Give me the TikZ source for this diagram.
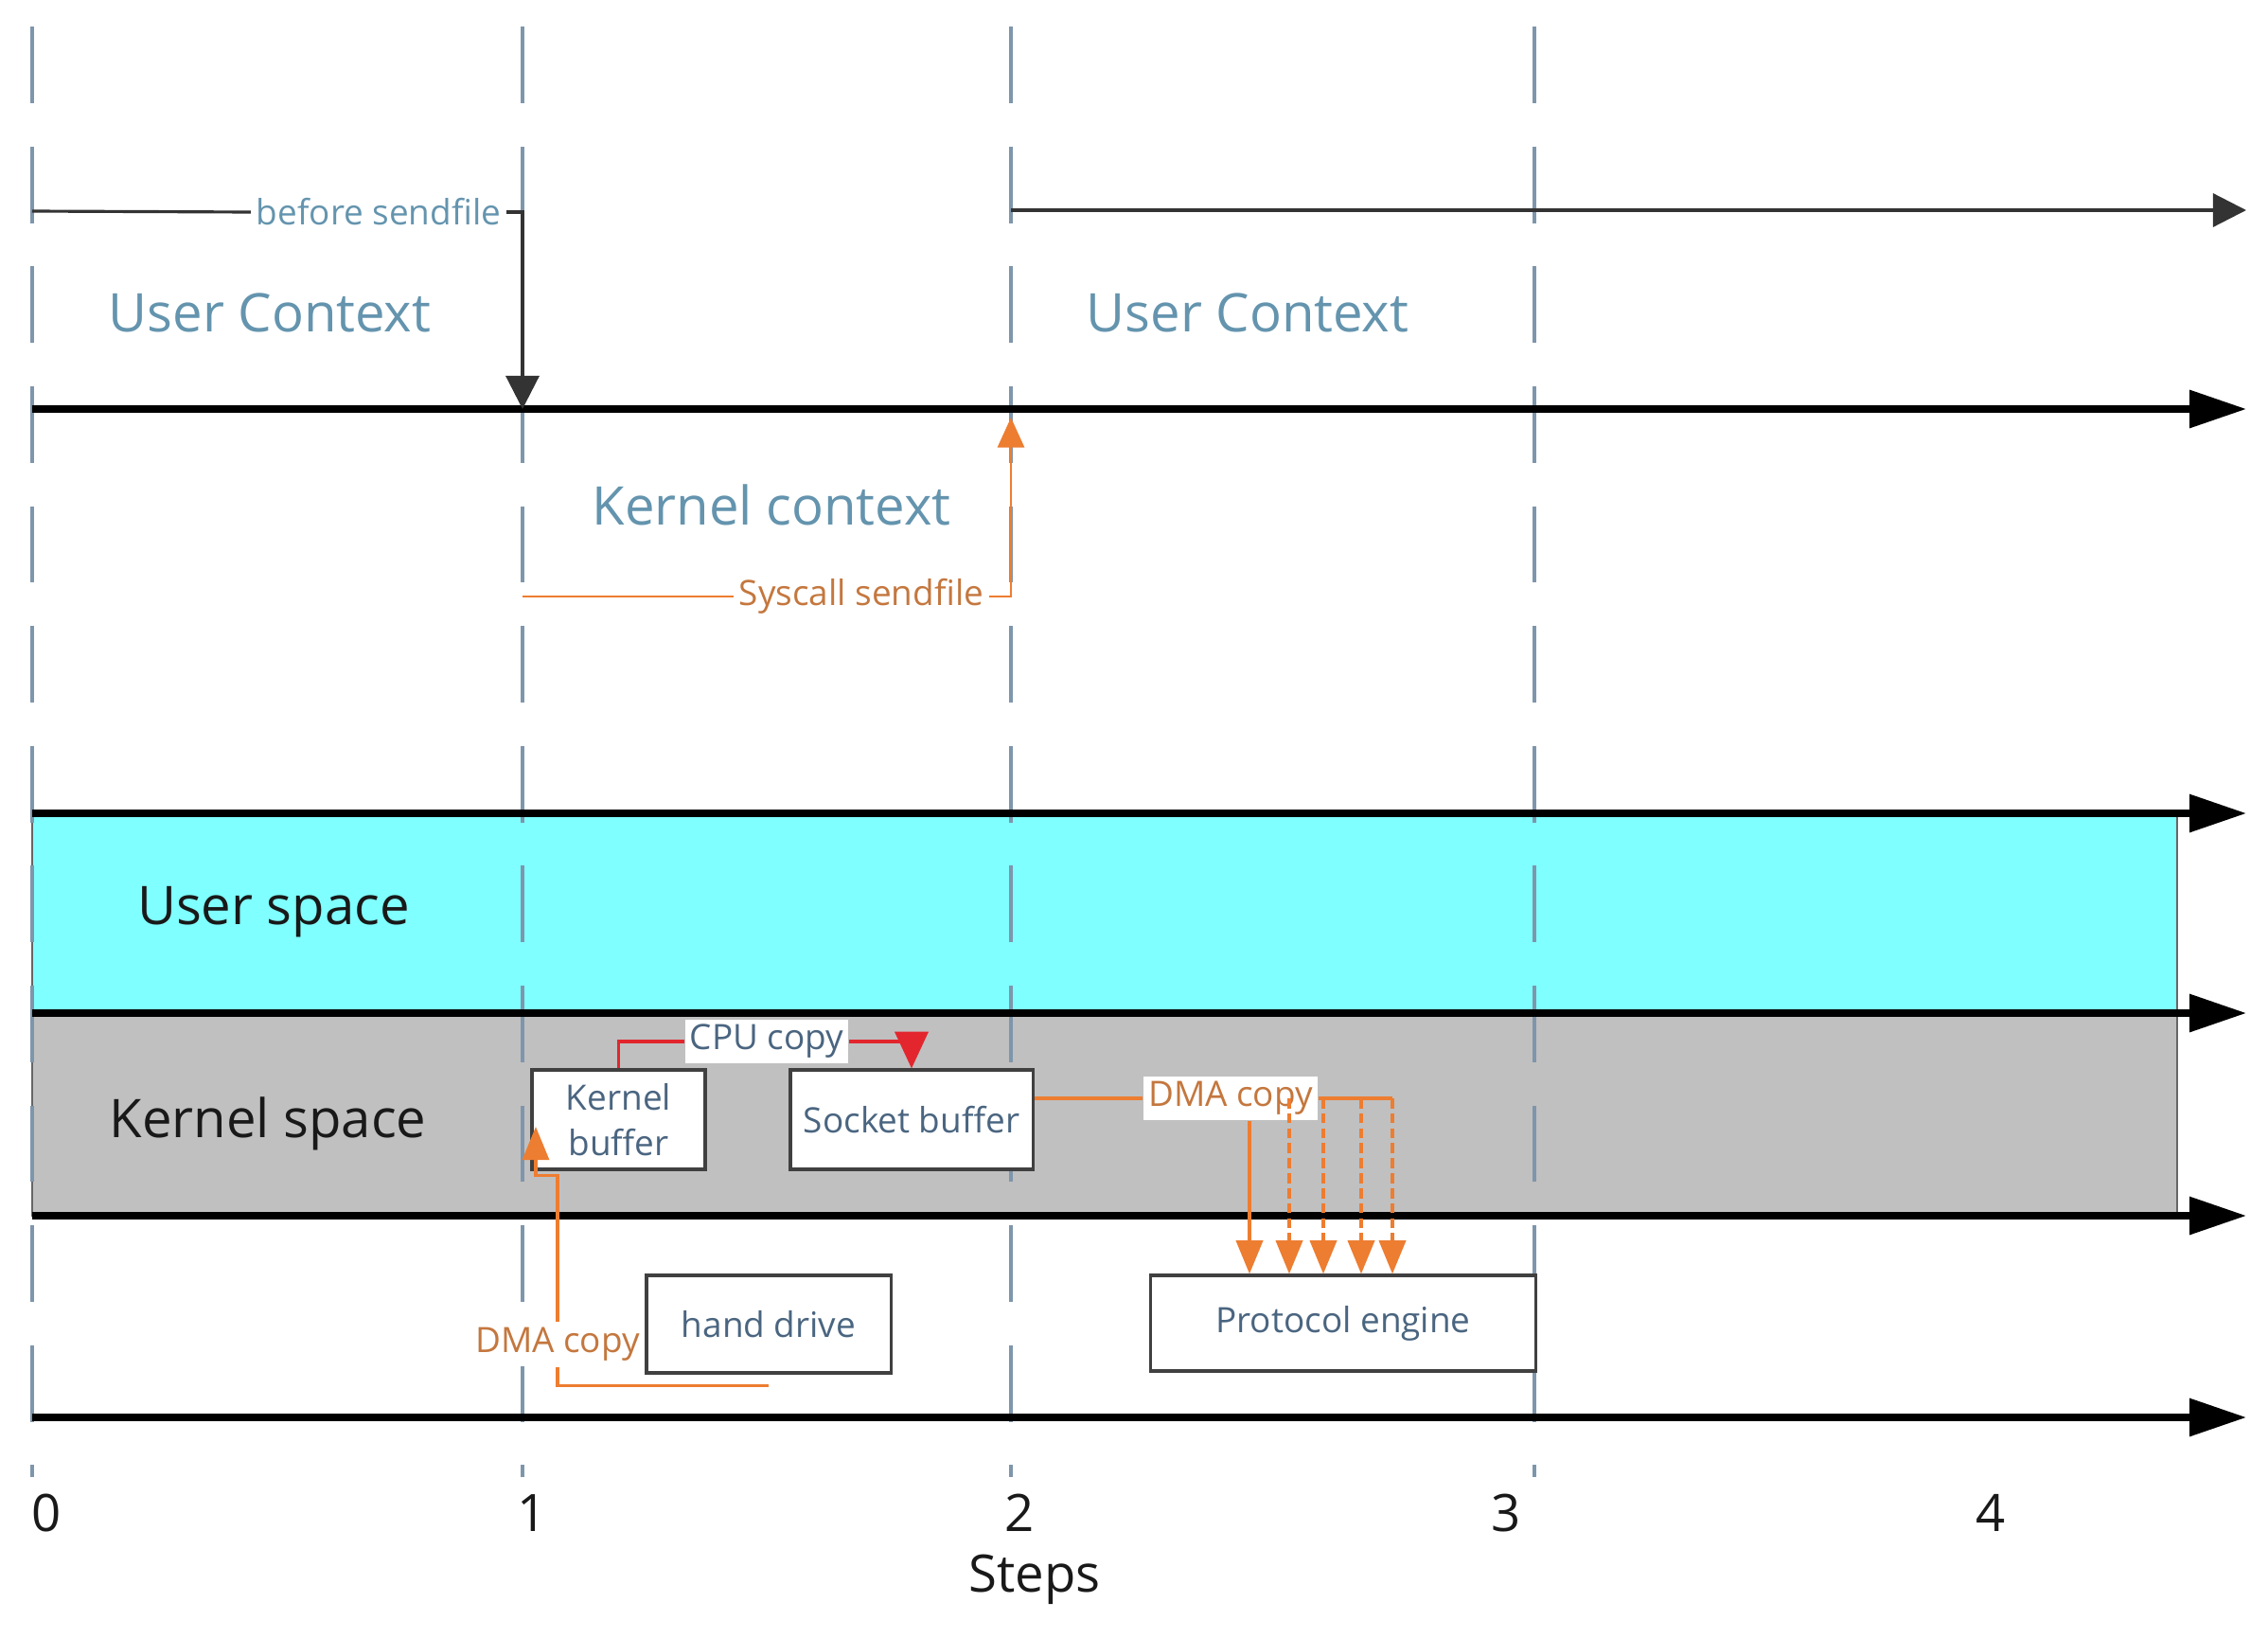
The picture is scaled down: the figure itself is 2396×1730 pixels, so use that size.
\documentclass[tikz,border=0pt]{standalone}
\usepackage{fontspec}
\setmainfont{Open Sans}
\usepackage{tikz}
\usetikzlibrary{arrows.meta}
\definecolor{sfcyan}{HTML}{7FFFFF}
\definecolor{sfgray}{HTML}{C0C0C0}
\definecolor{sfstep}{HTML}{7E96AC}
\definecolor{sfctx}{HTML}{6494AE}
\definecolor{sfbox}{HTML}{4A6580}
\definecolor{sforange}{HTML}{ED7D31}
\definecolor{sfbrown}{HTML}{C4773E}
\definecolor{sfred}{HTML}{E3262E}
\tikzset{
  stepline/.style={draw=sfstep, line width=1.1pt, dash pattern=on 23pt off 13pt, dash phase=-8pt},
  laneaxis/.style={line width=2pt, draw=black, -{Triangle[length=17pt, width=11pt]}},
  laneband/.style={draw=black!60, line width=0.5pt},
  ctxarrow/.style={line width=0.9pt, draw=black!80, -{Triangle[length=10pt, width=10pt]}},
  ctxline/.style={line width=0.9pt, draw=black!80},
  ctxlabel/.style={text=sfctx, font=\fontsize{16}{19}\selectfont},
  spacelabel/.style={text=black!90, font=\fontsize{16}{19}\selectfont},
  ticklabel/.style={text=black!90, font=\fontsize{15.5}{18}\selectfont},
  smalllabel/.style={font=\fontsize{10.5}{12.5}\selectfont, inner sep=1.5pt},
  bufbox/.style={rectangle, draw=black!75, line width=0.9pt, fill=white, text=sfbox,
    align=center, font=\fontsize{10.5}{13.5}\selectfont, inner sep=0pt},
  sysline/.style={draw=sforange, line width=0.8pt},
  sysarrow/.style={sysline, -{Triangle[length=9pt, width=8pt]}},
  cpuline/.style={draw=sfred, line width=0.9pt},
  cpuarrow/.style={cpuline, -{Triangle[length=11pt, width=10pt]}},
  dmaline/.style={draw=sforange, line width=0.9pt},
  dmaarrow/.style={dmaline, -{Triangle[length=10pt, width=8pt]}},
  dmafan/.style={dmaarrow, dash pattern=on 3pt off 1.5pt}
}

\begin{document}
\begin{tikzpicture}[x=0.01cm, y=-0.01cm]
\useasboundingbox (0,0) rectangle (2396,1730);
% user / kernel space bands
\filldraw[laneband, fill=sfcyan] (34,859) rectangle (2300,1070);
\filldraw[laneband, fill=sfgray] (34,1070) rectangle (2300,1284);
% step lines
\foreach \sx [count=\i] in {34,552,1068,1621} {
  \coordinate (st\i) at (\sx,0);
  \coordinate (sb\i) at (\sx,1560);
  \draw[stepline] (st\i) -- (sb\i);
}
% lane axes
\foreach \ay [count=\i] in {432,859,1070,1284,1497} {
  \coordinate (ax\i w) at (34,\ay);
  \coordinate (ax\i e) at (2373,\ay);
  \draw[laneaxis] (ax\i w) -- (ax\i e);
}
% contexts
\node[ctxlabel] (uctx1) at (285,330) {User Context};
\node[ctxlabel] (uctx2) at (1318,330) {User Context};
\node[ctxlabel] (kctx) at (815,533) {Kernel context};
\node[smalllabel, text=sfctx] (before) at (400,224) {before sendfile};
\node[smalllabel, text=sfbrown] (syscall) at (910,630) {Syscall sendfile};
\coordinate (bs0) at (34,223);
\coordinate (bs1) at (552,432);
\coordinate (ur0) at (1068,222);
\coordinate (ur1) at (2373,222);
\coordinate (sc0) at (552,630);
\coordinate (sc1) at (1068,441);
\draw[ctxline] (bs0) -- (before.west);
\draw[ctxarrow] (before.east) -| (bs1);
\draw[ctxarrow] (ur0) -- (ur1);
\draw[sysline] (sc0) -- (syscall.west);
\draw[sysarrow] (syscall.east) -| (sc1);
% spaces
\node[spacelabel] (uspace) at (289,963) {User space};
\node[spacelabel] (kspace) at (283,1187) {Kernel space};
% buffers and devices
\node[bufbox, minimum width=1.83cm, minimum height=1.05cm] (kbuf) at (653.5,1182.5) {Kernel\\buffer};
\node[bufbox, minimum width=2.56cm, minimum height=1.05cm] (sbuf) at (963,1182.5) {Socket buffer};
\node[bufbox, minimum width=2.58cm, minimum height=1.03cm] (hd) at (812,1398.5) {hand drive};
\node[bufbox, minimum width=4.06cm, minimum height=1.01cm] (pe) at (1419,1397.5) {Protocol engine};
% cpu copy
\node[smalllabel, fill=white, text=sfbox] (cpu) at (810,1100) {CPU copy};
\draw[cpuline] (kbuf.north) |- (cpu.west);
\draw[cpuarrow] (cpu.east) -| (sbuf.north);
% dma copy, disk to kernel buffer
\node[smalllabel, fill=white, text=sfbrown] (dmal) at (589,1420) {DMA copy};
\coordinate (hdout) at ([yshift=-0.12cm]hd.south);
\coordinate (kbin) at (566,1190);
\draw[dmaline] (hdout) -| (dmal.south);
\draw[dmaarrow] (dmal.north) -- ++(0,-155) -| (kbin);
% dma copy, socket buffer to protocol engine
\node[smalllabel, fill=white, text=sfbrown] (dmar) at (1300,1160) {DMA copy};
\draw[dmaline] (sbuf.east |- dmar.west) -- (dmar.west);
\coordinate (fanend) at (1471,1160);
\draw[dmaline] (dmar.east) -- (fanend);
\coordinate (fan0) at (1320,1160);
\draw[dmaarrow] (fan0 |- dmar.south) -- (fan0 |- pe.north);
\foreach \fx [count=\i] in {1362,1398,1438,1471} {
  \coordinate (fan\i) at (\fx,1160);
  \draw[dmafan] (fan\i) -- (fan\i |- pe.north);
}
% steps axis
\foreach \tx [count=\i from 0] in {49,562,1077,1591,2103} {
  \node[ticklabel] (tick\i) at (\tx,1598) {\i};
}
\node[ticklabel] (steps) at (1093,1668) {Steps};
\end{tikzpicture}
\end{document}
